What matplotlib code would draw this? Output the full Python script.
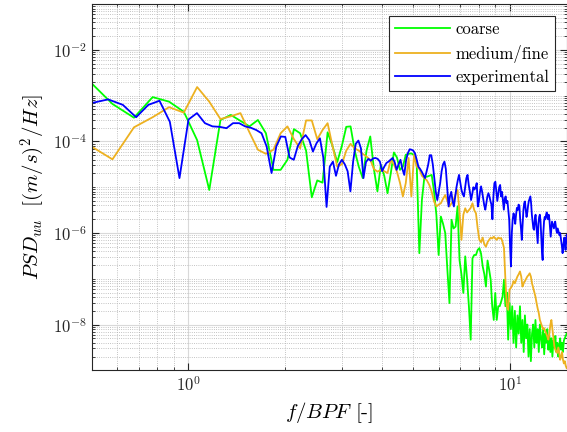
import numpy as np
import matplotlib
matplotlib.use("Agg")
import matplotlib.pyplot as plt
from matplotlib.ticker import FixedLocator, LogLocator, NullFormatter

plt.rcParams['mathtext.fontset'] = 'cm'
plt.rcParams['font.family'] = 'serif'
plt.rcParams['font.serif'] = ['cmr10', 'DejaVu Serif']
plt.rcParams['axes.formatter.use_mathtext'] = True

# frequency bins (f/BPF) of the two simulations and of the experiment
df_sim = 0.0967
df_exp = 1.0 / 16
f_sim = df_sim * np.arange(5, 156)
f_exp = df_exp * np.arange(8, 241)

# log10 of PSD_uu
coarse_log = [
    -2.63, -3.18, -3.48, -3.03, -3.13, -3.35, -3.97, -5.06, -3.53, -3.42,
    -3.55, -3.67, -3.53, -3.82, -4.62, -4.62, -4.40, -3.73, -3.82, -4.20,
    -5.22, -4.85, -4.90, -3.80, -4.10, -4.45, -4.10, -3.68, -3.67, -4.20,
    -4.55, -4.80, -4.20, -3.89, -4.60, -5.09, -4.51, -4.75, -5.13, -4.70,
    -4.24, -4.35, -4.62, -4.55, -4.29, -4.27, -4.26, -4.30, -4.51, -6.44,
    -5.28, -4.77, -4.77, -4.75, -4.73, -5.10, -5.60, -6.48, -5.64, -5.80,
    -6.00, -6.80, -7.53, -5.71, -5.90, -5.86, -5.42, -6.59, -6.90, -7.31,
    -6.51, -7.00, -7.60, -8.33, -6.55, -6.48, -6.48, -6.37, -6.33, -6.45,
    -6.73, -6.90, -7.17, -6.60, -6.80, -7.02, -7.60, -7.90, -7.31, -7.90,
    -7.60, -7.60, -7.50, -7.39, -7.02, -7.60, -7.30, -8.33, -7.53, -8.10,
    -7.60, -8.40, -7.70, -8.50, -7.80, -8.20, -7.60, -8.40, -7.90, -8.60,
    -7.80, -8.30, -8.00, -8.70, -8.10, -8.80, -8.20, -8.00, -8.50, -7.90,
    -8.40, -8.10, -8.60, -8.00, -8.30, -8.50, -8.10, -8.65, -8.20, -8.40,
    -8.10, -8.55, -8.25, -8.60, -8.30, -8.70, -8.35, -8.50, -8.25, -8.60,
    -8.40, -8.70, -8.45, -8.30, -8.55, -8.40, -8.60, -8.35, -8.30, -8.25,
    -8.20,
]

medium_log = [
    -4.05, -4.39, -3.69, -3.47, -3.25, -3.37, -2.81, -3.13, -3.51, -3.45,
    -3.38, -3.80, -4.18, -4.27, -4.18, -3.82, -3.67, -3.95, -4.15, -3.54,
    -3.54, -3.95, -3.75, -3.60, -4.10, -4.55, -4.50, -4.20, -4.05, -4.15,
    -4.20, -4.27, -4.33, -4.40, -4.60, -4.66, -4.62, -4.65, -4.69, -4.40,
    -4.50, -4.66, -4.90, -5.20, -4.91, -4.36, -5.20, -4.29, -4.55, -4.60,
    -4.75, -4.80, -4.85, -4.95, -5.10, -5.31, -5.42, -5.38, -5.35, -5.25,
    -5.17, -5.30, -5.42, -5.35, -5.28, -5.15, -5.06, -5.55, -6.15, -5.60,
    -5.46, -5.55, -5.50, -5.45, -5.35, -5.50, -5.57, -5.90, -6.15, -6.20,
    -6.10, -6.25, -6.30, -6.20, -6.15, -6.10, -6.12, -6.08, -6.12, -6.15,
    -6.10, -6.12, -6.11, -6.20, -6.33, -7.02, -7.60, -7.68, -7.24, -7.20,
    -7.15, -7.05, -7.10, -7.02, -6.95, -6.90, -6.84, -6.95, -7.17, -7.10,
    -7.05, -7.00, -6.95, -6.92, -6.88, -6.95, -7.10, -7.20, -7.30, -7.39,
    -7.53, -7.65, -7.75, -7.90, -7.97, -8.04, -8.10, -8.08, -8.15, -8.20,
    -8.26, -8.33, -8.20, -8.00, -7.90, -8.10, -8.30, -8.48, -8.55, -8.60,
    -8.62, -8.50, -8.62, -8.77, -8.70, -8.60, -8.77, -8.85, -8.80, -8.90,
    -8.95,
]

exp_log = [
    -3.16, -3.08, -3.20, -3.47, -3.20, -3.11, -3.57, -4.80, -3.52, -3.38,
    -3.60, -3.67, -3.68, -3.71, -3.60, -3.60, -3.67, -3.70, -3.75, -3.82,
    -4.11, -4.69, -4.11, -3.89, -3.90, -4.35, -4.40, -4.10, -3.95, -3.86,
    -3.97, -4.22, -4.04, -3.93, -4.35, -5.43, -4.55, -4.44, -4.75, -4.50,
    -4.40, -4.50, -4.65, -5.09, -4.44, -4.05, -3.98, -4.15, -4.80, -4.45,
    -4.38, -4.42, -4.37, -4.36, -4.38, -4.44, -4.65, -4.55, -4.47, -4.44,
    -4.40, -4.36, -4.45, -4.62, -4.50, -4.40, -4.60, -4.73, -4.40, -4.25,
    -4.17, -4.18, -4.20, -4.26, -4.40, -4.55, -4.60, -4.66, -4.73, -4.80,
    -4.65, -4.51, -4.30, -4.30, -4.50, -4.80, -5.10, -5.28, -5.10, -4.91,
    -4.65, -4.50, -4.44, -4.60, -5.00, -5.42, -5.20, -5.10, -5.30, -5.42,
    -5.20, -5.00, -4.85, -4.73, -4.90, -5.06, -5.15, -5.20, -5.00, -4.80,
    -4.73, -4.95, -5.10, -5.28, -5.15, -5.00, -5.05, -5.00, -4.91, -5.42,
    -5.30, -5.10, -4.98, -5.10, -5.25, -5.40, -5.49, -5.35, -5.20, -5.13,
    -5.20, -5.30, -5.38, -5.70, -5.20, -4.91, -4.88, -5.10, -5.30, -5.15,
    -5.00, -4.95, -5.20, -5.10, -5.30, -5.49, -5.25, -5.20, -5.35, -5.30,
    -5.50, -5.71, -6.30, -6.73, -6.00, -5.70, -5.57, -5.65, -5.80, -5.60,
    -5.45, -5.50, -5.38, -5.40, -5.70, -5.90, -6.15, -5.80, -5.50, -5.35,
    -5.31, -5.50, -5.65, -5.55, -5.40, -5.30, -5.25, -5.20, -5.35, -5.60,
    -5.75, -5.90, -5.93, -5.70, -5.60, -5.80, -6.00, -6.22, -5.80, -5.65,
    -5.60, -5.75, -6.10, -6.40, -6.59, -6.00, -5.75, -5.65, -5.70, -5.60,
    -5.55, -5.65, -5.70, -5.60, -5.70, -5.90, -6.08, -5.90, -5.75, -5.80,
    -5.85, -5.90, -5.80, -5.75, -5.85, -5.95, -6.00, -5.90, -5.95, -6.00,
    -6.05, -6.00, -6.10, -6.20, -6.30, -6.44, -6.30, -6.20, -6.10, -6.25,
    -6.37, -6.20, -6.04,
]

psd_coarse = 10.0 ** np.array(coarse_log)
psd_medium = 10.0 ** np.array(medium_log)
psd_exp = 10.0 ** np.array(exp_log)

fig = plt.figure(figsize=(5.67, 4.32), dpi=100)
ax = fig.add_axes([0.1617, 0.1428, 0.8378, 0.8475])

ax.loglog(f_sim, psd_coarse, color='#00ff00', lw=1.3, label='coarse')
ax.loglog(f_sim, psd_medium, color='#edb120', lw=1.3, label='medium/fine')
ax.loglog(f_exp, psd_exp, color='#0000ff', lw=1.3, label='experimental')

ax.set_xlim(0.5, 15)
ax.set_ylim(1e-9, 1e-1)

ax.yaxis.set_major_locator(FixedLocator([1e-8, 1e-6, 1e-4, 1e-2]))
ax.yaxis.set_minor_locator(LogLocator(base=10, subs=np.arange(1, 10), numticks=50))
ax.yaxis.set_minor_formatter(NullFormatter())
ax.xaxis.set_minor_formatter(NullFormatter())

ax.grid(True, which='major', color='#d9d9d9', lw=0.8, ls='-')
ax.grid(True, which='minor', color='#b0b0b0', lw=0.6, ls=':')
ax.set_axisbelow(True)

ax.tick_params(which='both', direction='in', top=True, right=True,
               colors='#262626', labelsize=12)
ax.tick_params(which='major', length=5)
ax.tick_params(which='minor', length=2.5)
for s in ax.spines.values():
    s.set_color('#262626')
    s.set_linewidth(0.8)

ax.set_xlabel(r'$f/BPF$ [-]', fontsize=15)
ax.set_ylabel(r'$PSD_{uu}\ \ [(m/s)^2/Hz]$', fontsize=15)

leg = ax.legend(loc='upper right', fontsize=12, fancybox=False, framealpha=1,
                edgecolor='#262626', handlelength=3.3, borderaxespad=0.7,
                labelspacing=0.45, borderpad=0.35, handletextpad=0.35)
leg.get_frame().set_linewidth(0.8)

plt.savefig("out.png", dpi=100)
